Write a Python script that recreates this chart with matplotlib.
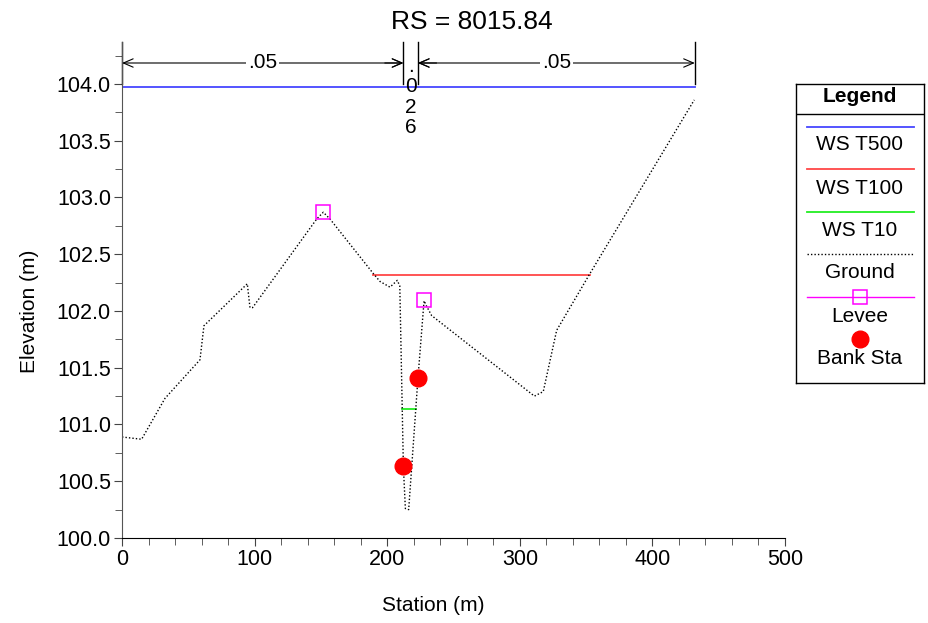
import matplotlib
matplotlib.use("Agg")
import matplotlib.pyplot as plt
from matplotlib.ticker import MultipleLocator, FormatStrFormatter

plt.rcParams['font.family'] = ['Liberation Sans', 'DejaVu Sans']

# ---------------- data ----------------
title = "RS = 8015.84"
ground_x = [0, 14.8, 32.4, 58.8, 61.8, 94.5, 96.5, 98.5, 146.8, 151.8, 156.9,
            189.5, 194.6, 202.1, 207.6, 209.5, 212.2, 213.7, 216.2, 218.5,
            223.2, 227.8, 229.8, 233.5, 311.0, 317.7, 327.8, 352.9, 431.6]
ground_y = [100.89, 100.87, 101.23, 101.57, 101.87, 102.24, 102.03, 102.03,
            102.81, 102.87, 102.81, 102.33, 102.26, 102.21, 102.27, 102.22,
            100.63, 100.26, 100.25, 100.63, 101.41, 102.09, 102.04, 101.96,
            101.25, 101.29, 101.83, 102.33, 103.86]

ws_t500_x = [0, 432.0]
ws_t500_y = [103.97, 103.97]
ws_t100_x = [189.5, 353.0]
ws_t100_y = [102.32, 102.32]
ws_t10_x = [211.4, 222.0]
ws_t10_y = [101.14, 101.14]

levee_x = [151.6, 227.8]
levee_y = [102.87, 102.10]

bank_x = [212.2, 223.2]
bank_y = [100.63, 101.41]

n_breaks = [0, 212.2, 223.2, 432.0]
n_values = [".05", ".026", ".05"]

legend_labels = ["WS T500", "WS T100", "WS T10", "Ground", "Levee", "Bank Sta"]

# ---------------- figure ----------------
W, H = 929, 623
fig = plt.figure(figsize=(W / 100, H / 100), dpi=100)
ax = fig.add_axes([122 / W, 1 - 538 / H, (785 - 122) / W, (538 - 42) / H])

c_blue = '#4646ff'
c_red = '#ff4646'
c_green = '#22ee22'
fs = 15

ax.plot(ws_t500_x, ws_t500_y, color=c_blue, lw=1.3)
ax.plot(ws_t100_x, ws_t100_y, color=c_red, lw=1.3)
ax.plot(ws_t10_x, ws_t10_y, color=c_green, lw=1.3)
ax.plot(ground_x, ground_y, color='black', lw=1.0, ls=(0, (1, 1.5)))
ax.plot(levee_x, levee_y, ls='none', marker='s', ms=10, mfc='none',
        mec='#ff00ff', mew=1.1)
ax.plot(bank_x, bank_y, ls='none', marker='o', ms=12, color='#ff0000')

ax.set_xlim(0, 500)
ax.set_ylim(100, 104.37)

for s in ['top', 'right']:
    ax.spines[s].set_visible(False)
ax.spines['left'].set_color('#555555')
ax.spines['bottom'].set_color('black')

ax.xaxis.set_major_locator(MultipleLocator(100))
ax.xaxis.set_minor_locator(MultipleLocator(20))
ax.yaxis.set_major_locator(MultipleLocator(0.5))
ax.yaxis.set_minor_locator(MultipleLocator(0.25))
ax.yaxis.set_major_formatter(FormatStrFormatter('%.1f'))
ax.tick_params(axis='both', which='major', direction='out', length=6,
               color='#444444', labelsize=15.5, pad=2)
ax.tick_params(axis='both', which='minor', direction='out', length=5,
               color='#444444')

ax.set_xlabel("Station (m)", fontsize=fs)
ax.set_ylabel("Elevation (m)", fontsize=fs)
ax.xaxis.set_label_coords(0.47, -0.117)
ax.yaxis.set_label_coords(-0.125, 0.458)

fig.text(472 / W, 1 - 22 / H, title, fontsize=19, ha='center', va='center')

# Manning's n annotations
y_top = 104.37
y_bot = 104.0
y_arr = 104.185
for xb in n_breaks:
    ax.plot([xb, xb], [y_bot, y_top], color='black', lw=1.0, clip_on=False)
for i, nv in enumerate(n_values):
    x0, x1 = n_breaks[i], n_breaks[i + 1]
    xm = (x0 + x1) / 2
    if x1 - x0 > 50:
        ax.annotate("", xy=(x0, y_arr), xytext=(x1, y_arr),
                    arrowprops=dict(arrowstyle='<->,head_length=0.7,head_width=0.3',
                                    color='black', lw=0.8, shrinkA=0, shrinkB=0),
                    annotation_clip=False)
        ax.text(xm, y_arr, nv, fontsize=fs, ha='center', va='center',
                bbox=dict(facecolor='white', edgecolor='none', pad=1.5))
    else:
        ax.annotate("", xy=(x0, y_arr), xytext=(x0 - 14, y_arr),
                    arrowprops=dict(arrowstyle='->,head_length=0.7,head_width=0.3',
                                    color='black', lw=0.8, shrinkA=0, shrinkB=0),
                    annotation_clip=False)
        ax.annotate("", xy=(x1, y_arr), xytext=(x1 + 14, y_arr),
                    arrowprops=dict(arrowstyle='->,head_length=0.7,head_width=0.3',
                                    color='black', lw=0.8, shrinkA=0, shrinkB=0),
                    annotation_clip=False)
        ax.text(xm, 103.885, "\n".join(nv), fontsize=fs, ha='center',
                va='center', linespacing=1.1)

# ---------------- legend box ----------------
lax = fig.add_axes([796 / W, 1 - 383 / H, 128 / W, (383 - 84) / H])
lax.set_xlim(796, 924)
lax.set_ylim(383, 84)
lax.set_xticks([])
lax.set_yticks([])
for s in lax.spines.values():
    s.set_color('black')
    s.set_linewidth(1.0)
lax.plot([796, 924], [114, 114], color='black', lw=1.0)
lax.text(860, 97, "Legend", fontsize=fs, fontweight='bold', ha='center', va='center')
cx = 860
lx0, lx1 = 807, 914
lax.plot([lx0, lx1], [127, 127], color=c_blue, lw=1.3)
lax.plot([lx0, lx1], [169, 169], color=c_red, lw=1.3)
lax.plot([lx0, lx1], [212, 212], color=c_green, lw=1.3)
lax.plot([lx0, lx1], [254, 254], color='black', lw=1.0, ls=(0, (1, 1.5)))
lax.plot([lx0, lx1], [297, 297], color='#ff00ff', lw=1.0)
lax.plot([cx], [297], ls='none', marker='s', ms=10, mfc='none', mec='#ff00ff', mew=1.1)
lax.plot([cx], [339], ls='none', marker='o', ms=12, color='#ff0000')
for lab, yy in zip(legend_labels, [145, 188, 231, 273, 316, 358]):
    lax.text(cx, yy, lab, fontsize=fs, ha='center', va='center')

fig.savefig("out.png", dpi=100)
